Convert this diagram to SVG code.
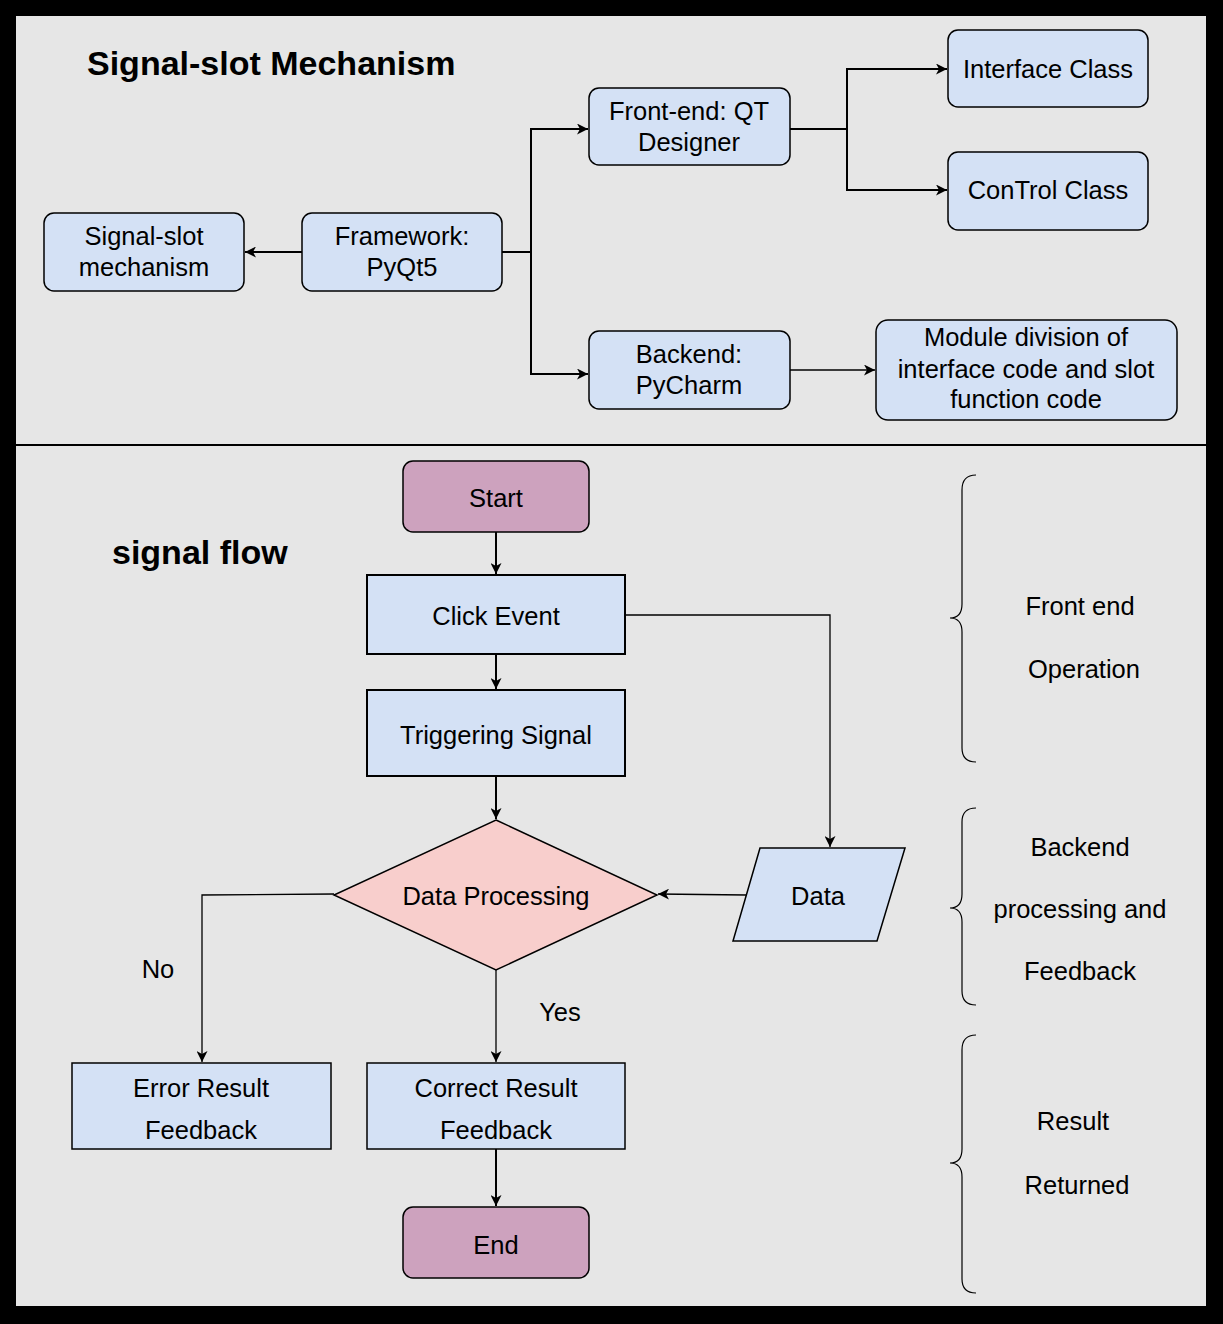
<svg xmlns="http://www.w3.org/2000/svg" width="1223" height="1324" viewBox="0 0 1223 1324">
<defs>
<style>
.t{font-family:"Liberation Sans",Arial,Helvetica,sans-serif;font-size:25.5px;fill:#000;text-anchor:middle}
.h{font-family:"Liberation Sans",Arial,Helvetica,sans-serif;font-size:34px;font-weight:bold;fill:#000}
.nb{fill:#d4e1f5;stroke:#000;stroke-width:1.5}
.nf{fill:#d4e1f5;stroke:#000;stroke-width:2}
.np{fill:#cda2be;stroke:#000;stroke-width:1.5}
.nd{fill:#f8cecc;stroke:#000;stroke-width:1.5}
.c{fill:none;stroke:#000;stroke-width:2}
.c1{fill:none;stroke:#000;stroke-width:1.3}
.br{fill:none;stroke:#000;stroke-width:1.2}
</style>
<marker id="ar" viewBox="0 0 11 11" refX="11" refY="5.5" markerWidth="11" markerHeight="11" markerUnits="userSpaceOnUse" orient="auto">
<path d="M0,0 L11,5.5 L0,11 L3,5.5 z" fill="#000"/>
</marker>
</defs>
<rect x="0" y="0" width="1223" height="1324" fill="#000"/>
<rect x="16" y="16" width="1190" height="1290" fill="#e6e6e6"/>
<line x1="16" y1="445" x2="1206" y2="445" stroke="#000" stroke-width="2"/>

<text class="h" x="87" y="75">Signal-slot Mechanism</text>
<text class="h" x="112" y="564">signal flow</text>

<g id="connectors">
<path class="c" d="M302,252 L245,252" marker-end="url(#ar)"/>
<path class="c" d="M502,252 L531,252 L531,129 L588,129" marker-end="url(#ar)"/>
<path class="c" d="M531,252 L531,374 L588,374" marker-end="url(#ar)"/>
<path class="c" d="M790,129 L847,129 L847,69 L947,69" marker-end="url(#ar)"/>
<path class="c" d="M847,129 L847,190 L947,190" marker-end="url(#ar)"/>
<path class="c1" d="M790,370 L875,370" marker-end="url(#ar)"/>
<path class="c" d="M496,532 L496,574" marker-end="url(#ar)"/>
<path class="c" d="M496,654 L496,689" marker-end="url(#ar)"/>
<path class="c" d="M496,776 L496,819" marker-end="url(#ar)"/>
<path class="c1" d="M625,615 L830,615 L830,847" marker-end="url(#ar)"/>
<path class="c1" d="M746,895 L658,894" marker-end="url(#ar)"/>
<path class="c1" d="M334,894 L202,895 L202,1062" marker-end="url(#ar)"/>
<path class="c1" d="M496,970 L496,1062" marker-end="url(#ar)"/>
<path class="c" d="M496,1149 L496,1206" marker-end="url(#ar)"/>
</g>

<g id="signal-slot-mechanism">
<rect class="nb" x="44" y="213" width="200" height="78" rx="10"/>
<text class="t" x="144" y="245">Signal-slot</text>
<text class="t" x="144" y="276">mechanism</text>
</g>
<g id="framework">
<rect class="nb" x="302" y="213" width="200" height="78" rx="10"/>
<text class="t" x="402" y="245">Framework:</text>
<text class="t" x="402" y="276">PyQt5</text>
</g>
<g id="frontend">
<rect class="nb" x="589" y="88" width="201" height="77" rx="10"/>
<text class="t" x="689" y="120">Front-end: QT</text>
<text class="t" x="689" y="151">Designer</text>
</g>
<g id="backend">
<rect class="nb" x="589" y="331" width="201" height="78" rx="10"/>
<text class="t" x="689" y="363">Backend:</text>
<text class="t" x="689" y="394">PyCharm</text>
</g>
<g id="interface-class">
<rect class="nb" x="948" y="30" width="200" height="77" rx="10"/>
<text class="t" x="1048" y="78">Interface Class</text>
</g>
<g id="control-class">
<rect class="nb" x="948" y="152" width="200" height="78" rx="10"/>
<text class="t" x="1048" y="199">ConTrol Class</text>
</g>
<g id="module-division">
<rect class="nb" x="876" y="320" width="301" height="100" rx="12"/>
<text class="t" x="1026" y="346">Module division of</text>
<text class="t" x="1026" y="378">interface code and slot</text>
<text class="t" x="1026" y="408">function code</text>
</g>

<g id="start">
<rect class="np" x="403" y="461" width="186" height="71" rx="10"/>
<text class="t" x="496" y="507">Start</text>
</g>
<g id="click-event">
<rect class="nf" x="367" y="575" width="258" height="79"/>
<text class="t" x="496" y="625">Click Event</text>
</g>
<g id="triggering-signal">
<rect class="nf" x="367" y="690" width="258" height="86"/>
<text class="t" x="496" y="744">Triggering Signal</text>
</g>
<g id="data-processing">
<polygon class="nd" points="496,820 657,895 496,970 334,895"/>
<text class="t" x="496" y="905">Data Processing</text>
</g>
<g id="data">
<polygon class="nb" points="760,848 905,848 877,941 733,941"/>
<text class="t" x="818" y="905">Data</text>
</g>
<g id="error-result">
<rect class="nb" x="72" y="1063" width="259" height="86"/>
<text class="t" x="201" y="1097">Error Result</text>
<text class="t" x="201" y="1139">Feedback</text>
</g>
<g id="correct-result">
<rect class="nb" x="367" y="1063" width="258" height="86"/>
<text class="t" x="496" y="1097">Correct Result</text>
<text class="t" x="496" y="1139">Feedback</text>
</g>
<g id="end">
<rect class="np" x="403" y="1207" width="186" height="71" rx="10"/>
<text class="t" x="496" y="1254">End</text>
</g>

<g id="labels">
<text class="t" x="158" y="978">No</text>
<text class="t" x="560" y="1021">Yes</text>
</g>

<g id="brace-frontend">
<path class="br" d="M976,475 Q962,475 962,490 L962,604 Q962,618 950,618 Q962,618 962,632 L962,748 Q962,762 976,762"/>
<text class="t" x="1080" y="615">Front end</text>
<text class="t" x="1084" y="678">Operation</text>
</g>
<g id="brace-backend">
<path class="br" d="M976,808 Q962,808 962,822 L962,894 Q962,908 950,908 Q962,908 962,922 L962,991 Q962,1005 976,1005"/>
<text class="t" x="1080" y="856">Backend</text>
<text class="t" x="1080" y="918">processing and</text>
<text class="t" x="1080" y="980">Feedback</text>
</g>
<g id="brace-result">
<path class="br" d="M976,1035 Q962,1035 962,1050 L962,1149 Q962,1163 950,1163 Q962,1163 962,1177 L962,1279 Q962,1293 976,1293"/>
<text class="t" x="1073" y="1130">Result</text>
<text class="t" x="1077" y="1194">Returned</text>
</g>
</svg>
